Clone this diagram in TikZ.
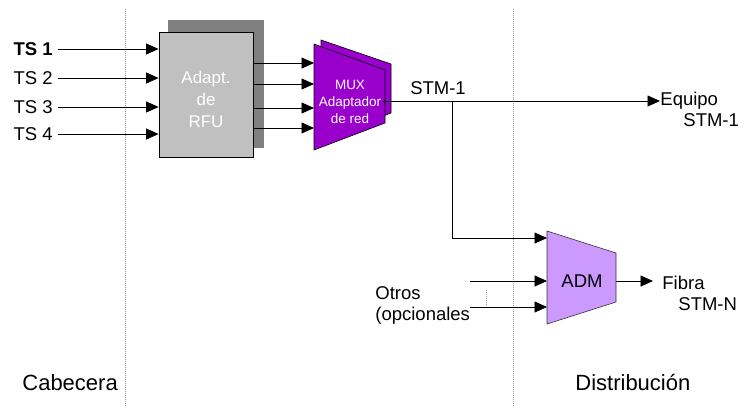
\documentclass[tikz,border=0pt]{standalone}
\usepackage{fontspec}
\setmainfont{Liberation Sans}
\usetikzlibrary{arrows.meta,calc,positioning}

\definecolor{muxpurple}{RGB}{153,0,204}
\definecolor{admlilac}{RGB}{204,153,255}
\definecolor{shadowgray}{RGB}{128,128,128}
\definecolor{boxgray}{RGB}{192,192,192}

\begin{document}
\begin{tikzpicture}[x=1pt, y=-1pt, >={Triangle[length=12.5pt,width=11pt]},
  line width=0.8pt,
  txt/.style={font=\fontsize{18.5}{21}\selectfont, inner sep=0pt, align=left},
  zone/.style={font=\fontsize{22}{26}\selectfont, inner sep=0pt},
  boxtext/.style={white, inner sep=0pt, align=center},
  divider/.style={draw=gray!80, line width=0.8pt, dash pattern=on 1pt off 1pt},
  sig/.style={->, line width=0.8pt}]

\useasboundingbox (0,0) rectangle (751,407);

% ============ Zone dividers ============
\coordinate (divL) at (125,9);
\coordinate (divR) at (513,9);
\draw[divider] (divL) -- ++(0,398);
\draw[divider] (divR) -- ++(0,398);

% ============ Adapt. de RFU ============
\fill[shadowgray] (168,20) rectangle (264,148);
\node[draw, fill=boxgray, minimum width=94pt, minimum height=125pt, inner sep=0pt]
  (rfu) at (206,94.5) {};
\node[boxtext, font=\fontsize{17}{22}\selectfont] (rfu-txt) at (206,99) {Adapt.\\de\\RFU};

% Inputs TS 1..4
\foreach \n/\y in {1/49,2/78,3/107,4/134} {
  \node[txt, anchor=east] (ts\n) at (53,\y) {\ifnum\n=1 \bfseries\fi TS \n};
  \draw[sig] ([xshift=5pt]ts\n.east) -- (ts\n.east -| rfu.west);
}

% ============ MUX Adaptador de red ============
\coordinate (mux-nw) at (314,44);
\coordinate (mux-ne) at (385,70);
\coordinate (mux-se) at (385,123);
\coordinate (mux-sw) at (314,150);
\filldraw[fill=muxpurple, draw=black, line width=0.6pt]
  (321,40) -- (391,64) -- (391,113) -- (321,140) -- cycle;
\filldraw[fill=muxpurple, draw=black, line width=0.6pt]
  (mux-nw) -- (mux-ne) -- (mux-se) -- (mux-sw) -- cycle;
\node[boxtext, font=\fontsize{13.5}{17}\selectfont] (mux) at (350,102) {MUX\\Adaptador\\de red};

% RFU -> MUX
\foreach \y in {63,84,108,128}
  \draw[sig] (rfu.east |- 0,\y) -- (mux-nw |- 0,\y);

% ============ STM-1 output ============
\coordinate (mux-out) at (383,101);
\node[txt] (stm) at (438,88) {STM-1};
\node[txt, anchor=base west] (equipo) at (660,126) {Equipo\\\hspace*{23pt}STM-1};
\draw[sig] (mux-out) -- (mux-out -| equipo.west);

% ============ ADM ============
\coordinate (adm-nw) at (547,231);
\coordinate (adm-ne) at (616,253);
\coordinate (adm-se) at (616,302);
\coordinate (adm-sw) at (547,324);
\filldraw[fill=admlilac, draw=black!80, line width=0.6pt]
  (adm-nw) -- (adm-ne) -- (adm-se) -- (adm-sw) -- cycle;
\node[txt] (adm) at (582,281) {ADM};

% branch from STM-1 line
\coordinate (split) at (452,101);
\coordinate (adm-in) at (547,238);
\draw[sig] (split) |- (adm-in);

% other inputs
\node[txt, anchor=base west] (otros) at (375,320) {Otros\\(opcionales};
\coordinate (otros-a) at (470,281);
\coordinate (otros-b) at (470,307);
\draw[sig] (otros-a) -- (otros-a -| adm-nw);
\draw[sig] (otros-b) -- (otros-b -| adm-nw);
\draw[divider] (486,290) -- (486,306);

% output
\coordinate (adm-out) at (616,281);
\coordinate (fibra-in) at (653,281);
\node[txt, anchor=base west] (fibra) at (662,310) {Fibra\\\hspace*{16pt}STM-N};
\draw[sig] (adm-out) -- (fibra-in);

% ============ Zone labels ============
\node[zone, anchor=west] (cabecera) at (22,383) {Cabecera};
\node[zone, anchor=west] (distrib) at (575,383) {Distribución};

\end{tikzpicture}
\end{document}
